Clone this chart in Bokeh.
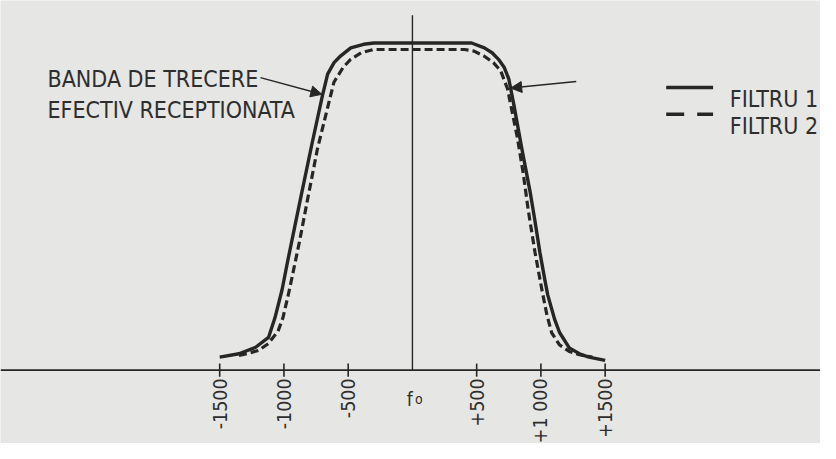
import math
from bokeh.plotting import figure
from bokeh.models import Range1d, Span, Arrow, NormalHead
from bokeh.core.properties import value
from bokeh.embed import file_html
from bokeh.resources import INLINE

# ---- data (frequency offset from f0 in Hz, relative response) ----
freq_f1 = [-1500, -1350, -1220, -1120, -1070, -1015, -970, -915, -860, -780, -700,
           -660, -610, -560, -480, -380, -300, 0, 300, 460, 560, 620, 670, 715, 750,
           790, 850, 916, 954, 992, 1031, 1053, 1107, 1145, 1221, 1300, 1374, 1500]
amp_f1 = [0.04, 0.05, 0.07, 0.10, 0.16, 0.245, 0.335, 0.44, 0.545, 0.695, 0.84,
          0.905, 0.94, 0.96, 0.985, 0.996, 1.0, 1.0, 1.0, 1.0, 0.985, 0.97, 0.95, 0.925, 0.89,
          0.81, 0.68, 0.545, 0.455, 0.36, 0.275, 0.23, 0.155, 0.115, 0.068, 0.05, 0.04, 0.03]

freq_f2 = [-1350, -1275, -1198, -1122, -1046, -1008, -969, -931, -878, -817, -740,
           -649, -611, -540, -481, -400, -305, 0, 405, 480, 557, 630, 687, 740, 817,
           863, 901, 954, 1008, 1046, 1084, 1145, 1221, 1300, 1400]
amp_f2 = [0.045, 0.052, 0.06, 0.081, 0.119, 0.16, 0.225, 0.295, 0.395, 0.52, 0.675,
          0.82, 0.88, 0.925, 0.95, 0.97, 0.98, 0.98, 0.98, 0.975, 0.96, 0.94, 0.915, 0.86, 0.71,
          0.6, 0.49, 0.36, 0.245, 0.17, 0.114, 0.077, 0.057, 0.047, 0.04]

tick_freqs = [-1500, -1000, -500, 500, 1000, 1500]
tick_labels = ["-1500", "-1000", "-500", "+500", "+1 000", "+1500"]
center_label = "f"
center_sub = "o"
annotation_lines = ["BANDA DE TRECERE", "EFECTIV RECEPTIONATA"]
legend_labels = ["FILTRU 1", "FILTRU 2"]

# ---- layout / style ----
FONT = "DejaVu Sans Condensed"
INK = "#262626"
TEXT = "#2e2e2e"
PAPER = "#e6e6e4"

p = figure(width=820, height=443,
           x_range=Range1d(-3206, 3176), y_range=Range1d(-0.2242, 1.1298),
           output_backend="svg", toolbar_location=None,
           x_axis_type=None, y_axis_type=None, min_border=0,
           background_fill_color=PAPER, border_fill_color=PAPER,
           outline_line_color=None)
p.grid.visible = False

# baseline axis
p.add_layout(Span(location=0, dimension="width", line_color=INK, line_width=1.6))
# f0 vertical line
p.segment(x0=[0], y0=[0], x1=[0], y1=[1.085], line_color=INK, line_width=1.4)

# ticks
n = len(tick_freqs)
p.segment(x0=tick_freqs, y0=[0.02] * n, x1=tick_freqs, y1=[-0.02] * n,
          line_color=INK, line_width=1.6)
p.text(x=tick_freqs, y=[-0.025] * n, text=tick_labels, angle=math.pi / 2,
       text_align="right", text_baseline="middle",
       text_font=value(FONT), text_font_size="19.5px", text_color=TEXT)
p.text(x=[-20], y=[-0.0885], text=[center_label], text_align="center",
       text_baseline="alphabetic", text_font=value(FONT), text_font_size="19px",
       text_color=TEXT)
p.text(x=[20], y=[-0.0885], text=[center_sub], text_align="left",
       text_baseline="alphabetic", text_font=value(FONT), text_font_size="14px",
       text_color=TEXT)

# curves
p.line(freq_f1, amp_f1, line_color=INK, line_width=3.4, line_join="round")
p.line(freq_f2, amp_f2, line_color=INK, line_width=3.2, line_dash="8 4",
       line_join="round")

# annotation text + arrows
p.text(x=[-2840, -2840], y=[0.891, 0.796], text=annotation_lines,
       text_align="left", text_baseline="alphabetic",
       text_font=value(FONT), text_font_size="23px", text_color=TEXT)
p.add_layout(Arrow(end=NormalHead(size=11, fill_color=INK, line_color=INK),
                   x_start=-1183, y_start=0.894, x_end=-705, y_end=0.843,
                   line_color=INK, line_width=1.5))
p.add_layout(Arrow(end=NormalHead(size=11, fill_color=INK, line_color=INK),
                   x_start=1275, y_start=0.882, x_end=765, y_end=0.862,
                   line_color=INK, line_width=1.5))

# manual legend
p.segment(x0=[1975], y0=[0.864], x1=[2340], y1=[0.864], line_color=INK, line_width=3.5)
p.segment(x0=[1975], y0=[0.782], x1=[2340], y1=[0.782], line_color=INK, line_width=3.5,
          line_dash="18 13")
p.text(x=[2470, 2470], y=[0.829, 0.746], text=legend_labels,
       text_align="left", text_baseline="alphabetic",
       text_font=value(FONT), text_font_size="23px", text_color=TEXT)

open("out.html", "w").write(file_html(p, INLINE))
